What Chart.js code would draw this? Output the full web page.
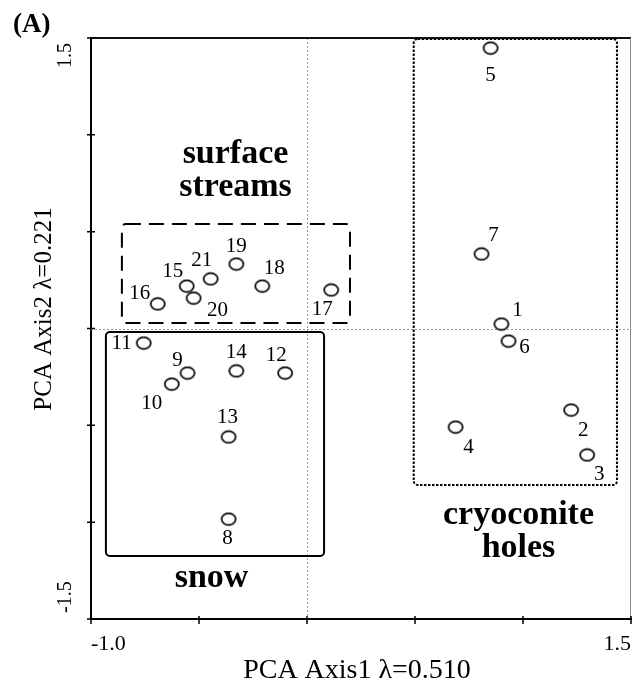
<!DOCTYPE html>
<html>
<head>
<meta charset="utf-8">
<script src="https://cdn.jsdelivr.net/npm/chart.js@4/dist/chart.umd.min.js"></script>
<style>
  html, body { margin: 0; background: #fff; }
</style>
</head>
<body>
<canvas id="grafica" width="639" height="685"></canvas>
<script>
// datos del PCA
const sitios = ["1","2","3","4","5","6","7","8","9","10","11","12","13","14","15","16","17","18","19","20","21"];
const eje1 = [0.900, 1.223, 1.297, 0.688, 0.850, 0.933, 0.808, -0.363, -0.553, -0.626, -0.756,
              -0.101, -0.363, -0.327, -0.557, -0.691, 0.112, -0.207, -0.327, -0.525, -0.446];
const eje2 = [0.023, -0.421, -0.653, -0.509, 1.448, -0.065, 0.385, -0.984, -0.230, -0.287, -0.075,
              -0.230, -0.560, -0.219, 0.219, 0.127, 0.199, 0.219, 0.333, 0.157, 0.256];
const etiquetasX = [-1.0, 1.5];
const etiquetasY = [1.5, -1.5];
const grupos = [["surface", "streams"], ["snow"], ["cryoconite", "holes"]];

// extension de cada grupo en unidades de los ejes [x1, x2, y1, y2]
const cajas = [
  [-0.857, 0.199, 0.028, 0.540],
  [-0.931, 0.079, -1.175, -0.018],
  [0.494, 1.435, -0.808, 1.495]
];
// estilo de la caja y donde va el nombre del grupo (x, y de la primera linea)
const estiloCajas = [
  { dash: [15, 8], nombre: [-0.331, 0.855] },
  { dash: [], nombre: [-0.442, -1.335] },
  { dash: [2.5, 1.5], nombre: [0.979, -1.009] }
];
// desplazamiento (px) de cada numero respecto a su punto
const desplaz = [[16,-14],[12,20],[12,20],[13,20],[0,27],[16,6],[12,-18],[-1,19],[-10,-13],[-20,19],[-22,0],
                 [-9,-18],[-1,-19],[0,-18],[-14,-15],[-18,-10],[-9,20],[12,-18],[0,-18],[24,12],[-9,-18]];

const serif = "'Liberation Serif', 'Times New Roman', serif";
Chart.defaults.font.family = serif;
Chart.defaults.color = "#000";

// circulo abierto un poco achatado
const punto = document.createElement("canvas");
punto.width = 18; punto.height = 15;
(function () {
  const c = punto.getContext("2d");
  c.strokeStyle = "#000";
  c.lineWidth = 1.7;
  c.beginPath();
  c.ellipse(9, 7.5, 7, 5.8, 0, 0, Math.PI * 2);
  c.stroke();
})();

const dibujo = {
  id: "dibujo",
  beforeDatasetsDraw(chart) {
    const { ctx, chartArea: a, scales: { x, y } } = chart;
    ctx.save();
    // lineas del cero
    ctx.strokeStyle = "#9a9a9a";
    ctx.lineWidth = 1;
    ctx.setLineDash([2, 2]);
    const x0 = Math.round(x.getPixelForValue(0)) + 0.5;
    const y0 = Math.round(y.getPixelForValue(0)) + 0.5;
    ctx.beginPath();
    ctx.moveTo(x0, a.top); ctx.lineTo(x0, a.bottom);
    ctx.moveTo(a.left, y0); ctx.lineTo(a.right, y0);
    ctx.stroke();

    // cajas de los grupos
    ctx.strokeStyle = "#000";
    ctx.lineWidth = 2;
    cajas.forEach((c, i) => {
      const px1 = x.getPixelForValue(c[0]), px2 = x.getPixelForValue(c[1]);
      const py1 = y.getPixelForValue(c[3]), py2 = y.getPixelForValue(c[2]);
      ctx.setLineDash(estiloCajas[i].dash);
      ctx.beginPath();
      ctx.roundRect(px1, py1, px2 - px1, py2 - py1, 4);
      ctx.stroke();
    });
    ctx.setLineDash([]);

    // nombres de los grupos
    ctx.fillStyle = "#000";
    ctx.font = "bold 34px " + serif;
    ctx.textAlign = "center";
    ctx.textBaseline = "alphabetic";
    grupos.forEach((lineas, i) => {
      const px = x.getPixelForValue(estiloCajas[i].nombre[0]);
      const py = y.getPixelForValue(estiloCajas[i].nombre[1]);
      lineas.forEach((t, k) => ctx.fillText(t, px, py + k * 33));
    });
    ctx.restore();
  },
  afterDatasetsDraw(chart) {
    const { ctx } = chart;
    const meta = chart.getDatasetMeta(0);
    ctx.save();
    ctx.fillStyle = "#000";
    ctx.font = "21px " + serif;
    ctx.textAlign = "center";
    ctx.textBaseline = "middle";
    meta.data.forEach((p, i) => {
      ctx.fillText(sitios[i], p.x + desplaz[i][0], p.y + desplaz[i][1]);
    });
    ctx.restore();
  },
  afterDraw(chart) {
    const { ctx, chartArea: a, scales: { x, y } } = chart;
    ctx.save();
    // marco superior y derecho
    ctx.strokeStyle = "#111";
    ctx.lineWidth = 2;
    ctx.beginPath();
    ctx.moveTo(a.left, a.top); ctx.lineTo(a.right, a.top);
    ctx.stroke();
    ctx.strokeStyle = "#888";
    ctx.lineWidth = 1;
    ctx.beginPath();
    ctx.moveTo(a.right - 0.5, a.top); ctx.lineTo(a.right - 0.5, a.bottom);
    ctx.stroke();

    // marcas de los ejes (cruzan la linea)
    ctx.strokeStyle = "#000";
    ctx.lineWidth = 1.5;
    ctx.beginPath();
    x.ticks.forEach(t => {
      const px = x.getPixelForValue(t.value);
      ctx.moveTo(px, a.bottom - 3); ctx.lineTo(px, a.bottom + 5);
    });
    y.ticks.forEach(t => {
      const py = y.getPixelForValue(t.value);
      ctx.moveTo(a.left - 4, py); ctx.lineTo(a.left + 4, py);
    });
    ctx.stroke();

    // etiquetas del eje Y, giradas
    ctx.fillStyle = "#000";
    ctx.font = "20px " + serif;
    ctx.textBaseline = "alphabetic";
    etiquetasY.forEach(v => {
      const py = y.getPixelForValue(v);
      ctx.save();
      ctx.translate(71, py);
      ctx.rotate(-Math.PI / 2);
      ctx.textAlign = v > 0 ? "right" : "left";
      ctx.fillText(v.toFixed(1), v > 0 ? -5 : 6, 0);
      ctx.restore();
    });

    // titulos de los ejes
    ctx.font = "28px " + serif;
    ctx.textAlign = "center";
    ctx.fillText("PCA Axis1 \u03bb=0.510", 357, 678);
    ctx.save();
    ctx.translate(51, 309);
    ctx.rotate(-Math.PI / 2);
    ctx.font = "25px " + serif;
    ctx.fillText("PCA Axis2 \u03bb=0.221", 0, 0);
    ctx.restore();

    // letra del panel
    ctx.font = "bold 27px " + serif;
    ctx.textAlign = "left";
    ctx.fillText("(A)", 13, 32);
    ctx.restore();
  }
};

new Chart(document.getElementById("grafica"), {
  type: "scatter",
  data: {
    datasets: [{
      label: "sitios",
      data: eje1.map((v, i) => ({ x: v, y: eje2[i] })),
      pointStyle: punto,
      pointRadius: 7,
      pointHoverRadius: 7
    }]
  },
  options: {
    responsive: false,
    animation: false,
    layout: { padding: { top: 38, right: 6, left: 0, bottom: 0 } },
    plugins: {
      legend: { display: false },
      tooltip: { enabled: false }
    },
    scales: {
      x: {
        type: "linear",
        min: -1.0,
        max: 1.5,
        grid: { display: false },
        border: { display: true, color: "#000", width: 2 },
        ticks: {
          stepSize: 0.5,
          autoSkip: false,
          maxRotation: 0,
          align: "inner",
          padding: 4,
          font: { size: 22 },
          callback: v => etiquetasX.includes(v) ? v.toFixed(1) : ""
        },
        afterFit: s => { s.height = 66; }
      },
      y: {
        type: "linear",
        min: -1.5,
        max: 1.5,
        grid: { display: false },
        border: { display: true, color: "#000", width: 2 },
        ticks: { stepSize: 0.5, display: false },
        afterFit: s => { s.width = 91; }
      }
    }
  },
  plugins: [dibujo]
});
</script>
</body>
</html>
